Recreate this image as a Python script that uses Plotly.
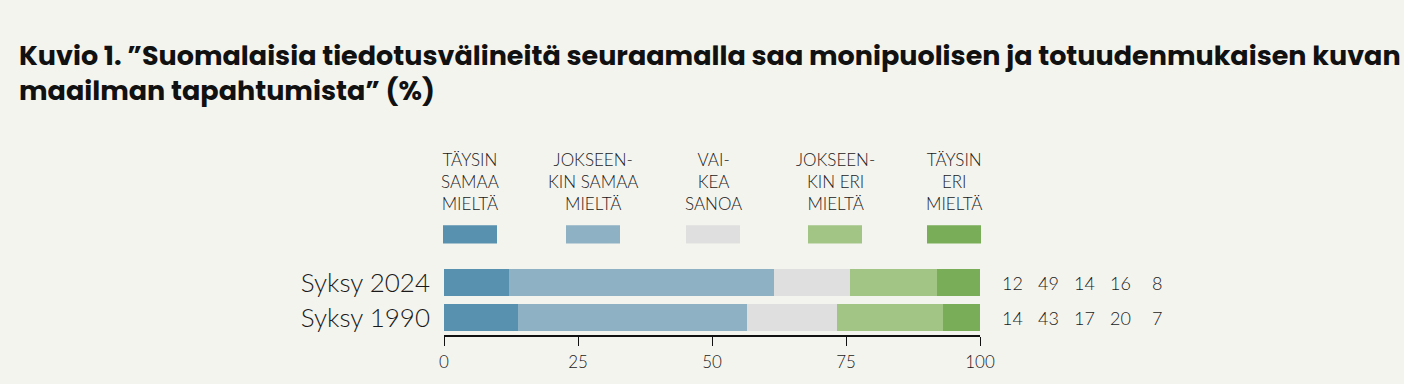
import plotly.graph_objects as go

categories = ["Syksy 2024", "Syksy 1990"]
series_names = ["TÄYSIN<br>SAMAA<br>MIELTÄ", "JOKSEEN-<br>KIN SAMAA<br>MIELTÄ", "VAI-<br>KEA<br>SANOA",
                "JOKSEEN-<br>KIN ERI<br>MIELTÄ", "TÄYSIN<br>ERI<br>MIELTÄ"]
values_2024 = [12, 49, 14, 16, 8]
values_1990 = [14, 43, 17, 20, 7]
colors = ["#5890AF", "#8EB1C4", "#DFDFDF", "#A2C586", "#79AD57"]
tick_vals = [0, 25, 50, 75, 100]
title_text = ("Kuvio 1. ”Suomalaisia tiedotusvälineitä seuraamalla saa monipuolisen ja totuudenmukaisen kuvan"
              "<br>maailman tapahtumista” (%)")

W, H = 1404, 384
L, R = 444, 980
T, B = 264.6, 341.5
BG = "#F4F4EF"
FONT = "Lato"

fig = go.Figure()
rows = [values_2024, values_1990]
for i, name in enumerate(series_names):
    fig.add_trace(go.Bar(
        y=categories, x=[r[i] for r in rows], orientation="h",
        marker=dict(color=colors[i], line=dict(width=0)),
        name=name, showlegend=False, hoverinfo="x+y"))


def px_x(p):
    return (p - L) / (R - L)


def px_y(p):
    return (B - p) / (B - T)


annotations = []
shapes = []
# custom legend
sw_left = [443, 566, 686, 808, 927]
sw_w = 54
for i, name in enumerate(series_names):
    x0 = sw_left[i]
    shapes.append(dict(type="rect", xref="paper", yref="paper",
                       x0=px_x(x0), x1=px_x(x0 + sw_w), y0=px_y(241), y1=px_y(221),
                       fillcolor=colors[i], line=dict(width=0)))
    annotations.append(dict(xref="paper", yref="paper", x=px_x(x0 + sw_w / 2), y=px_y(211),
                            text=name, showarrow=False, xanchor="center", yanchor="bottom",
                            align="center", font=dict(family=FONT, size=17, color="#1a1a1a", weight=300)))

# value labels
val_x = [1012, 1048, 1084, 1120, 1157]
for cat, r in zip(categories, rows):
    for j, v in enumerate(r):
        annotations.append(dict(xref="paper", yref="y", x=px_x(val_x[j]), y=cat,
                                text=str(v), showarrow=False, xanchor="center", yanchor="middle",
                                font=dict(family=FONT, size=18, color="#1a1a1a", weight=300)))

# title
annotations.append(dict(xref="paper", yref="paper", x=px_x(17), y=px_y(12),
                        text=title_text, showarrow=False, xanchor="left", yanchor="top",
                        align="left",
                        font=dict(family="Poppins, Open Sans", size=27, color="#111111", weight="bold")))

fig.update_layout(
    width=W, height=H,
    margin=dict(l=L, r=W - R, t=T, b=H - B, pad=0),
    paper_bgcolor=BG, plot_bgcolor=BG,
    barmode="stack", barnorm="percent", bargap=0.23,
    showlegend=False,
    annotations=annotations, shapes=shapes,
    xaxis=dict(range=[0, 100], tickvals=tick_vals, ticks="outside", ticklen=9, tickwidth=1,
               tickcolor="#111", showline=True, linecolor="#111", linewidth=1.5,
               showgrid=False, zeroline=False, fixedrange=True, ticklabelstandoff=2,
               tickfont=dict(family=FONT, size=17, color="#1a1a1a", weight=300)),
    yaxis=dict(autorange="reversed", showgrid=False, showline=False, ticks="",
               ticklabelstandoff=13, fixedrange=True,
               tickfont=dict(family=FONT, size=26, color="#1a1a1a", weight=300)),
)

fig.write_html("out.html", config={"displayModeBar": False},
               post_script="document.body.style.margin='0';document.body.style.background='" + BG + "';")
